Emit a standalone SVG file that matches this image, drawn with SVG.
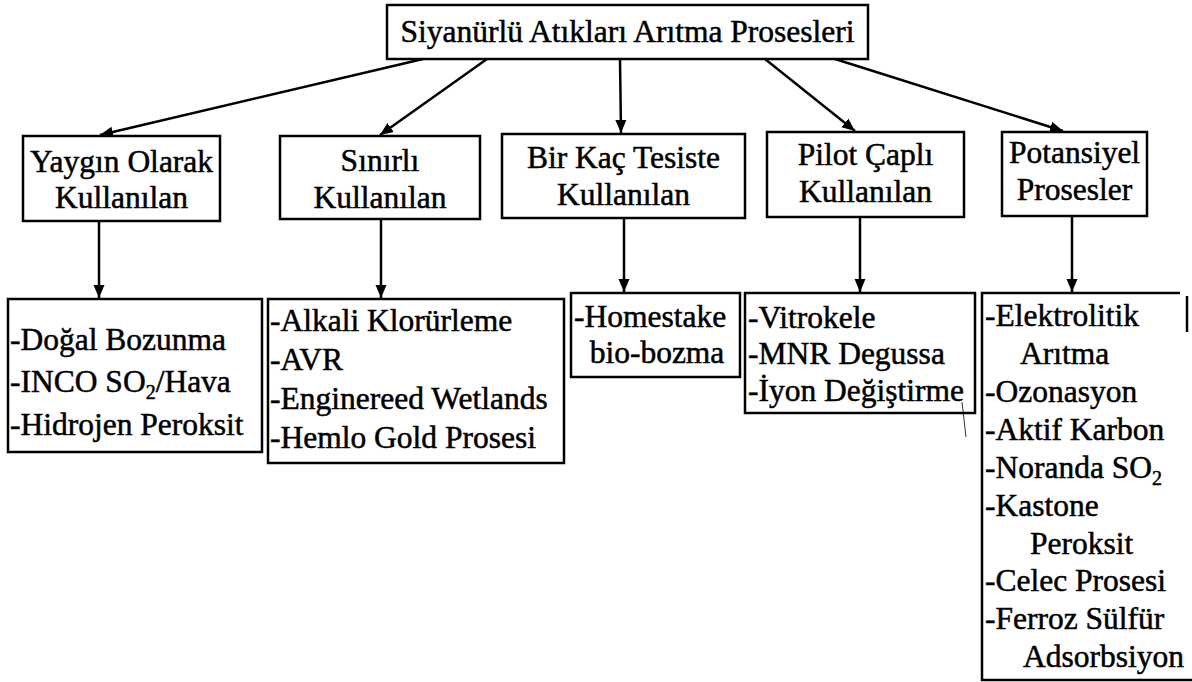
<svg xmlns="http://www.w3.org/2000/svg" width="1192" height="682" viewBox="0 0 1192 682">
<style>
  .box { fill: #fff; stroke: #000; stroke-width: 2.5; }
  .edge { fill: none; stroke: #000; stroke-width: 2.5; }
  text { font-family: "Liberation Serif", "Times New Roman", serif; font-size: 31.5px; fill: #000; stroke: #000; stroke-width: 0.5; }
  .c { text-anchor: middle; }
  .sub { font-size: 20px; }
</style>
<defs>
  <marker id="arr" markerUnits="userSpaceOnUse" markerWidth="14" markerHeight="14" viewBox="0 0 14 14" refX="13" refY="7" orient="auto">
    <path d="M0,1.5 L13,7 L0,12.5 Z" fill="#000"/>
  </marker>
</defs>
<rect width="1192" height="682" fill="#fff"/>

<g id="connectors">
  <line class="edge" x1="423" y1="59" x2="100" y2="135" marker-end="url(#arr)"/>
  <line class="edge" x1="487" y1="59" x2="380" y2="135" marker-end="url(#arr)"/>
  <line class="edge" x1="620" y1="59" x2="621" y2="133" marker-end="url(#arr)"/>
  <line class="edge" x1="765" y1="59" x2="855" y2="131" marker-end="url(#arr)"/>
  <line class="edge" x1="835" y1="59" x2="1063" y2="131" marker-end="url(#arr)"/>
  <line class="edge" x1="99" y1="221" x2="99" y2="298" marker-end="url(#arr)"/>
  <line class="edge" x1="381" y1="219" x2="381" y2="298" marker-end="url(#arr)"/>
  <line class="edge" x1="624" y1="218" x2="624" y2="292" marker-end="url(#arr)"/>
  <line class="edge" x1="860" y1="217" x2="860" y2="292" marker-end="url(#arr)"/>
  <line class="edge" x1="1072" y1="216" x2="1072" y2="292" marker-end="url(#arr)"/>
</g>

<g id="root">
  <rect class="box" x="387" y="5" width="481" height="54"/>
  <text class="c" x="627.5" y="42">Siyanürlü Atıkları Arıtma Prosesleri</text>
</g>

<g id="yaygin">
  <rect class="box" x="23" y="136" width="197" height="85"/>
  <text class="c" x="121.5" y="172">Yaygın Olarak</text>
  <text class="c" x="121.5" y="208">Kullanılan</text>
</g>
<g id="sinirli">
  <rect class="box" x="280" y="136" width="200" height="83"/>
  <text class="c" x="380" y="171">Sınırlı</text>
  <text class="c" x="380" y="208">Kullanılan</text>
</g>
<g id="birkac">
  <rect class="box" x="502" y="134" width="243" height="84"/>
  <text class="c" x="623.5" y="168">Bir Kaç Tesiste</text>
  <text class="c" x="623.5" y="205">Kullanılan</text>
</g>
<g id="pilot">
  <rect class="box" x="767" y="132" width="197" height="85"/>
  <text class="c" x="865.5" y="165">Pilot Çaplı</text>
  <text class="c" x="865.5" y="202">Kullanılan</text>
</g>
<g id="potansiyel">
  <rect class="box" x="1002" y="132" width="145" height="84"/>
  <text class="c" x="1074.5" y="163">Potansiyel</text>
  <text class="c" x="1074.5" y="200">Prosesler</text>
</g>

<g id="list-yaygin">
  <rect class="box" x="8" y="299" width="254" height="153"/>
  <text x="10" y="350">-Doğal Bozunma</text>
  <text x="10" y="392">-INCO SO<tspan class="sub" dy="7">2</tspan><tspan dy="-7">/Hava</tspan></text>
  <text x="10" y="435">-Hidrojen Peroksit</text>
</g>
<g id="list-sinirli">
  <rect class="box" x="268" y="299" width="296" height="164"/>
  <text x="270" y="331">-Alkali Klorürleme</text>
  <text x="270" y="370">-AVR</text>
  <text x="270" y="409">-Enginereed Wetlands</text>
  <text x="270" y="448">-Hemlo Gold Prosesi</text>
</g>
<g id="list-birkac">
  <rect class="box" x="571" y="293" width="169" height="84"/>
  <text x="574" y="327">-Homestake</text>
  <text class="c" x="657" y="363">bio-bozma</text>
</g>
<g id="list-pilot">
  <rect class="box" x="745" y="293" width="230" height="120"/>
  <text x="748" y="328">-Vitrokele</text>
  <text x="748" y="364">-MNR Degussa</text>
  <text x="748" y="401">-İyon Değiştirme</text>
  <line x1="962" y1="402" x2="966" y2="437" stroke="#000" stroke-width="0.8"/>
</g>
<g id="list-potansiyel">
  <path class="edge" d="M1180,293 L982,293 L982,680 L1192,680"/>
  <line class="edge" x1="1187" y1="296" x2="1187" y2="332"/>
  <text x="985" y="326">-Elektrolitik</text>
  <text x="1020" y="364">Arıtma</text>
  <text x="985" y="402">-Ozonasyon</text>
  <text x="985" y="440">-Aktif Karbon</text>
  <text x="985" y="478">-Noranda SO<tspan class="sub" dy="7">2</tspan></text>
  <text x="985" y="516">-Kastone</text>
  <text x="1030" y="554">Peroksit</text>
  <text x="985" y="591">-Celec Prosesi</text>
  <text x="985" y="629">-Ferroz Sülfür</text>
  <text x="1023" y="667">Adsorbsiyon</text>
</g>
</svg>
